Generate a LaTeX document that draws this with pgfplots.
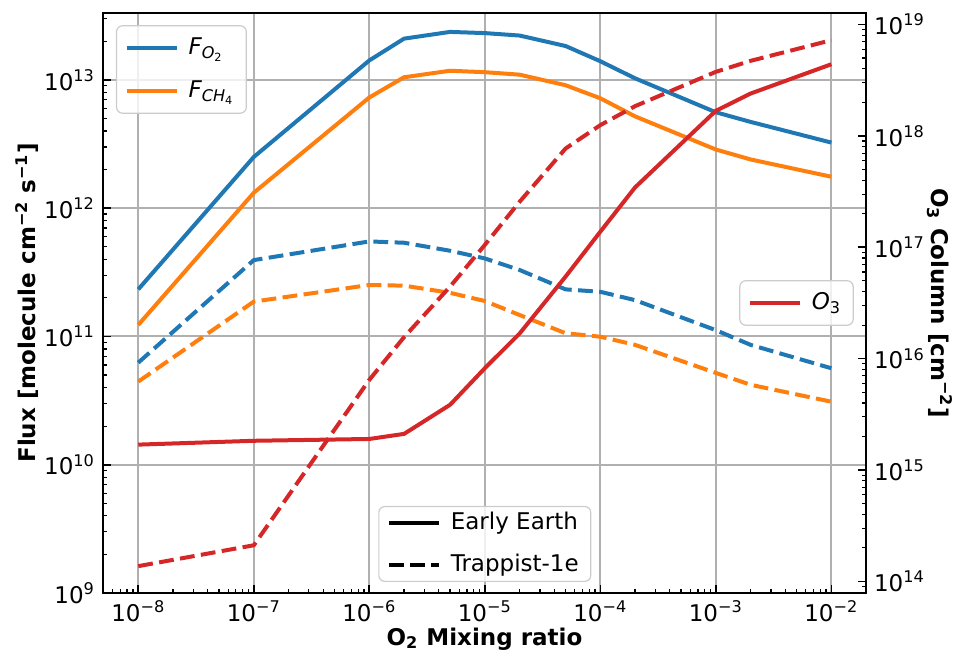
\documentclass[border=0pt]{standalone}
\usepackage{fontspec}
\setmainfont{DejaVu Sans}
\usepackage{pgfplots}
\pgfplotsset{compat=1.18}
\usepackage{pgfplotstable}
\definecolor{tabblue}{HTML}{1F77B4}
\definecolor{taborange}{HTML}{FF7F0E}
\definecolor{tabred}{HTML}{D62728}
\definecolor{gridgray}{HTML}{B0B0B0}
\definecolor{legframe}{HTML}{CCCCCC}

\pgfplotstableread{
x       fo2ee    fch4ee   fo2t     fch4t    o3ee     o3t
1e-8    2.33e11  1.23e11  6.25e10  4.45e10  1.69e15  1.37e14
1e-7    2.51e12  1.32e12  3.94e11  1.87e11  1.83e15  2.11e14
1e-6    1.42e13  7.3e12   5.51e11  2.52e11  1.90e15  6.45e15
2e-6    2.10e13  1.05e13  5.38e11  2.49e11  2.11e15  1.56e16
5e-6    2.37e13  1.18e13  4.66e11  2.19e11  3.85e15  4.43e16
1e-5    2.32e13  1.15e13  4.06e11  1.89e11  8.2e15   1.05e17
2e-5    2.22e13  1.10e13  3.30e11  1.47e11  1.68e16  2.56e17
5e-5    1.84e13  9.1e12   2.33e11  1.06e11  5.45e16  7.7e17
1e-4    1.40e13  7.2e12   2.23e11  9.96e10  1.38e17  1.25e18
2e-4    1.03e13  5.2e12   1.92e11  8.6e10   3.45e17  1.85e18
1e-3    5.6e12   2.87e12  1.12e11  5.2e10   1.68e18  3.76e18
2e-3    4.71e12  2.40e12  8.6e10   4.2e10   2.40e18  4.72e18
1e-2    3.25e12  1.76e12  5.65e10  3.1e10   4.4e18   7.23e18
}\data

\tikzset{
  lin/.style={line width=2pt},
  dsh/.style={line width=2pt, dash pattern=on 7.4pt off 3.2pt},
}
\pgfplotsset{
  every axis/.append style={
    scale only axis, width=381.5pt, height=290pt,
    xmin=4.95e-9, xmax=1.995e-2,
    tick align=inside,
    major tick length=4pt, minor tick length=2.2pt,
    every tick/.style={black, line width=0.8pt},
    every minor tick/.style={black, line width=0.6pt},
    axis line style={line width=1pt},
    legend cell align=left,
  },
  legend image code/.code={\draw[#1] (0pt,0pt) -- (25pt,0pt);},
  every axis legend/.append style={draw=legframe, rounded corners=3pt, fill=white, fill opacity=0.8, text opacity=1,
      inner xsep=4pt, inner ysep=4pt, row sep=7.5pt, column sep=3pt, line width=0.6pt},
}

\begin{document}
\fontsize{11.5}{13.8}\selectfont
\begin{tikzpicture}
\useasboundingbox (-51.5pt,-29pt) rectangle (427.5pt,296.5pt);
\begin{loglogaxis}[
  ymin=1e9, ymax=3.33e13,
  xtick={1e-8,1e-7,1e-6,1e-5,1e-4,1e-3,1e-2},
  xticklabels={10\textsuperscript{−8},10\textsuperscript{−7},10\textsuperscript{−6},10\textsuperscript{−5},10\textsuperscript{−4},10\textsuperscript{−3},10\textsuperscript{−2}},
  minor xtick={5e-9,6e-9,7e-9,8e-9,9e-9,
    2e-8,3e-8,4e-8,5e-8,6e-8,7e-8,8e-8,9e-8,
    2e-7,3e-7,4e-7,5e-7,6e-7,7e-7,8e-7,9e-7,
    2e-6,3e-6,4e-6,5e-6,6e-6,7e-6,8e-6,9e-6,
    2e-5,3e-5,4e-5,5e-5,6e-5,7e-5,8e-5,9e-5,
    2e-4,3e-4,4e-4,5e-4,6e-4,7e-4,8e-4,9e-4,
    2e-3,3e-3,4e-3,5e-3,6e-3,7e-3,8e-3,9e-3},
  ytick={1e9,1e10,1e11,1e12,1e13},
  yticklabels={10\textsuperscript{9},10\textsuperscript{10},10\textsuperscript{11},10\textsuperscript{12},10\textsuperscript{13}},
  minor ytick={2e9,3e9,4e9,5e9,6e9,7e9,8e9,9e9,
    2e10,3e10,4e10,5e10,6e10,7e10,8e10,9e10,
    2e11,3e11,4e11,5e11,6e11,7e11,8e11,9e11,
    2e12,3e12,4e12,5e12,6e12,7e12,8e12,9e12,
    2e13,3e13},
  xtick pos=left, ytick pos=left,
  grid=major,
  major grid style={gridgray, line width=1pt},
  xlabel={\bfseries O\textsubscript{2} Mixing ratio},
  ylabel={\bfseries Flux [molecule cm\textsuperscript{−2} s\textsuperscript{−1}]},
  xlabel style={at={(axis description cs:0.5,-0.079)}, anchor=center},
  ylabel style={at={(axis description cs:-0.0996,0.5)}, anchor=center},
  legend style={at={(axis description cs:0.017,0.979)}, anchor=north west},
]
\addplot[tabblue, lin] table[x=x, y=fo2ee] {\data};
\addlegendentry{\itshape F\textsubscript{O\textsubscript{\upshape 2}}}
\addplot[taborange, lin] table[x=x, y=fch4ee] {\data};
\addlegendentry{\itshape F\textsubscript{CH\textsubscript{\upshape 4}}}
\addplot[tabblue, dsh, forget plot] table[x=x, y=fo2t] {\data};
\addplot[taborange, dsh, forget plot] table[x=x, y=fch4t] {\data};
\end{loglogaxis}

\begin{loglogaxis}[
  ymin=7.87e13, ymax=1.27e19,
  axis x line=none, axis y line*=right,
  ytick={1e14,1e15,1e16,1e17,1e18,1e19},
  yticklabels={10\textsuperscript{14},10\textsuperscript{15},10\textsuperscript{16},10\textsuperscript{17},10\textsuperscript{18},10\textsuperscript{19}},
  minor ytick={8e13,9e13,
    2e14,3e14,4e14,5e14,6e14,7e14,8e14,9e14,
    2e15,3e15,4e15,5e15,6e15,7e15,8e15,9e15,
    2e16,3e16,4e16,5e16,6e16,7e16,8e16,9e16,
    2e17,3e17,4e17,5e17,6e17,7e17,8e17,9e17,
    2e18,3e18,4e18,5e18,6e18,7e18,8e18,9e18},
  ylabel={\bfseries O\textsubscript{3} Column [cm\textsuperscript{−2}]},
  ylabel style={at={(axis description cs:1.097,0.5)}, anchor=center, rotate=180},
  legend style={at={(axis description cs:0.984,0.5)}, anchor=east},
]
\addplot[tabred, lin] table[x=x, y=o3ee] {\data};
\addlegendentry{\itshape O\textsubscript{\upshape 3}}
\addplot[tabred, dsh, forget plot] table[x=x, y=o3t] {\data};
\end{loglogaxis}

\begin{loglogaxis}[hide axis,
  ymin=1, ymax=10,
  legend style={at={(axis description cs:0.5004,0.019)}, anchor=south, inner ysep=1pt, row sep=6.5pt},
]
\addlegendimage{black, lin}
\addlegendentry{Early Earth}
\addlegendimage{black, dsh}
\addlegendentry{Trappist-1e}
\end{loglogaxis}
\end{tikzpicture}
\end{document}
